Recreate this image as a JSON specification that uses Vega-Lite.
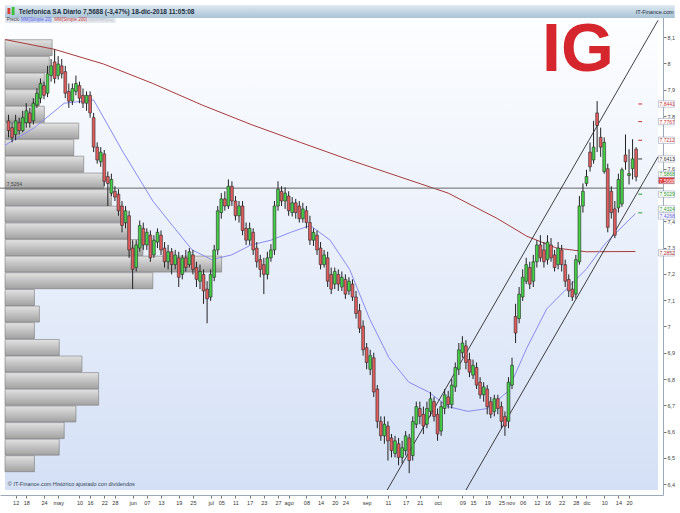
{
  "$schema": "https://vega.github.io/schema/vega-lite/v6.json",
  "width": 663,
  "height": 482,
  "autosize": {"type": "none"},
  "padding": {"left": 0, "top": 13, "right": 17, "bottom": 18},
  "background": "#ffffff",
  "config": {"view": {"stroke": null}, "font": "Liberation Sans", "axis": {"labelOverlap": false}},
  "data": {"values": [{"k": 1}]},
  "datasets": {
    "candles": [
      {"i":1,"o":7.782,"h":7.805,"l":7.719,"c":7.745},
      {"i":2,"o":7.756,"h":7.775,"l":7.700,"c":7.719},
      {"i":3,"o":7.730,"h":7.805,"l":7.708,"c":7.782},
      {"i":4,"o":7.775,"h":7.794,"l":7.730,"c":7.745},
      {"i":5,"o":7.745,"h":7.820,"l":7.738,"c":7.794},
      {"i":6,"o":7.775,"h":7.849,"l":7.756,"c":7.820},
      {"i":7,"o":7.812,"h":7.831,"l":7.756,"c":7.775},
      {"i":8,"o":7.782,"h":7.868,"l":7.768,"c":7.849},
      {"i":9,"o":7.842,"h":7.905,"l":7.831,"c":7.887},
      {"i":10,"o":7.868,"h":7.943,"l":7.849,"c":7.924},
      {"i":11,"o":7.916,"h":7.931,"l":7.864,"c":7.879},
      {"i":12,"o":7.887,"h":7.991,"l":7.872,"c":7.961},
      {"i":13,"o":7.954,"h":8.017,"l":7.931,"c":7.991},
      {"i":14,"o":8.006,"h":8.054,"l":7.924,"c":7.943},
      {"i":15,"o":7.954,"h":8.028,"l":7.939,"c":7.998},
      {"i":16,"o":7.991,"h":8.017,"l":7.943,"c":7.961},
      {"i":17,"o":7.969,"h":7.991,"l":7.868,"c":7.887},
      {"i":18,"o":7.894,"h":7.924,"l":7.831,"c":7.857},
      {"i":19,"o":7.857,"h":7.924,"l":7.842,"c":7.905},
      {"i":20,"o":7.894,"h":7.954,"l":7.879,"c":7.924},
      {"i":21,"o":7.916,"h":7.931,"l":7.849,"c":7.868},
      {"i":22,"o":7.879,"h":7.905,"l":7.831,"c":7.849},
      {"i":23,"o":7.849,"h":7.894,"l":7.820,"c":7.879},
      {"i":24,"o":7.879,"h":7.894,"l":7.794,"c":7.812},
      {"i":25,"o":7.794,"h":7.812,"l":7.663,"c":7.682},
      {"i":26,"o":7.682,"h":7.700,"l":7.619,"c":7.633},
      {"i":27,"o":7.626,"h":7.682,"l":7.607,"c":7.663},
      {"i":28,"o":7.656,"h":7.671,"l":7.533,"c":7.552},
      {"i":29,"o":7.570,"h":7.589,"l":7.458,"c":7.544},
      {"i":30,"o":7.507,"h":7.581,"l":7.496,"c":7.559},
      {"i":31,"o":7.514,"h":7.533,"l":7.477,"c":7.492},
      {"i":32,"o":7.503,"h":7.522,"l":7.421,"c":7.440},
      {"i":33,"o":7.458,"h":7.477,"l":7.358,"c":7.384},
      {"i":34,"o":7.395,"h":7.458,"l":7.373,"c":7.440},
      {"i":35,"o":7.421,"h":7.440,"l":7.261,"c":7.291},
      {"i":36,"o":7.298,"h":7.328,"l":7.142,"c":7.217},
      {"i":37,"o":7.224,"h":7.328,"l":7.209,"c":7.310},
      {"i":38,"o":7.298,"h":7.403,"l":7.284,"c":7.384},
      {"i":39,"o":7.373,"h":7.395,"l":7.291,"c":7.310},
      {"i":40,"o":7.310,"h":7.373,"l":7.291,"c":7.358},
      {"i":41,"o":7.347,"h":7.365,"l":7.246,"c":7.261},
      {"i":42,"o":7.272,"h":7.347,"l":7.261,"c":7.328},
      {"i":43,"o":7.321,"h":7.373,"l":7.298,"c":7.358},
      {"i":44,"o":7.347,"h":7.365,"l":7.272,"c":7.291},
      {"i":45,"o":7.298,"h":7.321,"l":7.224,"c":7.246},
      {"i":46,"o":7.246,"h":7.310,"l":7.217,"c":7.284},
      {"i":47,"o":7.284,"h":7.298,"l":7.198,"c":7.235},
      {"i":48,"o":7.235,"h":7.291,"l":7.217,"c":7.272},
      {"i":49,"o":7.261,"h":7.284,"l":7.150,"c":7.187},
      {"i":50,"o":7.198,"h":7.272,"l":7.179,"c":7.261},
      {"i":51,"o":7.261,"h":7.291,"l":7.209,"c":7.224},
      {"i":52,"o":7.235,"h":7.298,"l":7.224,"c":7.284},
      {"i":53,"o":7.272,"h":7.291,"l":7.198,"c":7.217},
      {"i":54,"o":7.224,"h":7.246,"l":7.150,"c":7.179},
      {"i":55,"o":7.172,"h":7.235,"l":7.142,"c":7.209},
      {"i":56,"o":7.198,"h":7.217,"l":7.086,"c":7.135},
      {"i":57,"o":7.142,"h":7.172,"l":7.012,"c":7.105},
      {"i":58,"o":7.112,"h":7.217,"l":7.097,"c":7.198},
      {"i":59,"o":7.187,"h":7.310,"l":7.172,"c":7.291},
      {"i":60,"o":7.291,"h":7.458,"l":7.272,"c":7.440},
      {"i":61,"o":7.433,"h":7.507,"l":7.410,"c":7.485},
      {"i":62,"o":7.485,"h":7.514,"l":7.440,"c":7.458},
      {"i":63,"o":7.458,"h":7.559,"l":7.447,"c":7.533},
      {"i":64,"o":7.533,"h":7.552,"l":7.458,"c":7.477},
      {"i":65,"o":7.477,"h":7.496,"l":7.403,"c":7.421},
      {"i":66,"o":7.421,"h":7.477,"l":7.395,"c":7.458},
      {"i":67,"o":7.458,"h":7.477,"l":7.347,"c":7.365},
      {"i":68,"o":7.373,"h":7.395,"l":7.310,"c":7.328},
      {"i":69,"o":7.328,"h":7.395,"l":7.310,"c":7.373},
      {"i":70,"o":7.358,"h":7.373,"l":7.272,"c":7.291},
      {"i":71,"o":7.298,"h":7.321,"l":7.224,"c":7.246},
      {"i":72,"o":7.254,"h":7.272,"l":7.187,"c":7.217},
      {"i":73,"o":7.235,"h":7.261,"l":7.123,"c":7.198},
      {"i":74,"o":7.198,"h":7.284,"l":7.179,"c":7.261},
      {"i":75,"o":7.261,"h":7.313,"l":7.246,"c":7.291},
      {"i":76,"o":7.291,"h":7.477,"l":7.272,"c":7.458},
      {"i":77,"o":7.458,"h":7.552,"l":7.440,"c":7.522},
      {"i":78,"o":7.514,"h":7.533,"l":7.458,"c":7.477},
      {"i":79,"o":7.477,"h":7.529,"l":7.447,"c":7.507},
      {"i":80,"o":7.496,"h":7.514,"l":7.421,"c":7.440},
      {"i":81,"o":7.433,"h":7.492,"l":7.418,"c":7.470},
      {"i":82,"o":7.470,"h":7.485,"l":7.410,"c":7.433},
      {"i":83,"o":7.458,"h":7.477,"l":7.395,"c":7.410},
      {"i":84,"o":7.410,"h":7.470,"l":7.395,"c":7.447},
      {"i":85,"o":7.440,"h":7.458,"l":7.373,"c":7.395},
      {"i":86,"o":7.395,"h":7.421,"l":7.310,"c":7.328},
      {"i":87,"o":7.328,"h":7.373,"l":7.306,"c":7.358},
      {"i":88,"o":7.347,"h":7.365,"l":7.272,"c":7.291},
      {"i":89,"o":7.298,"h":7.321,"l":7.217,"c":7.235},
      {"i":90,"o":7.235,"h":7.291,"l":7.224,"c":7.272},
      {"i":91,"o":7.261,"h":7.284,"l":7.150,"c":7.172},
      {"i":92,"o":7.198,"h":7.224,"l":7.123,"c":7.142},
      {"i":93,"o":7.161,"h":7.224,"l":7.142,"c":7.209},
      {"i":94,"o":7.198,"h":7.217,"l":7.135,"c":7.161},
      {"i":95,"o":7.150,"h":7.209,"l":7.135,"c":7.187},
      {"i":96,"o":7.179,"h":7.198,"l":7.105,"c":7.123},
      {"i":97,"o":7.135,"h":7.187,"l":7.120,"c":7.172},
      {"i":98,"o":7.161,"h":7.179,"l":7.097,"c":7.112},
      {"i":99,"o":7.112,"h":7.135,"l":7.030,"c":7.049},
      {"i":100,"o":7.060,"h":7.086,"l":6.975,"c":6.993},
      {"i":101,"o":7.001,"h":7.023,"l":6.889,"c":6.911},
      {"i":102,"o":6.919,"h":6.937,"l":6.837,"c":6.863},
      {"i":103,"o":6.837,"h":6.911,"l":6.815,"c":6.889},
      {"i":104,"o":6.881,"h":6.900,"l":6.732,"c":6.751},
      {"i":105,"o":6.762,"h":6.777,"l":6.613,"c":6.639},
      {"i":106,"o":6.639,"h":6.658,"l":6.565,"c":6.584},
      {"i":107,"o":6.584,"h":6.658,"l":6.554,"c":6.628},
      {"i":108,"o":6.621,"h":6.639,"l":6.490,"c":6.565},
      {"i":109,"o":6.576,"h":6.591,"l":6.502,"c":6.528},
      {"i":110,"o":6.517,"h":6.584,"l":6.502,"c":6.565},
      {"i":111,"o":6.554,"h":6.576,"l":6.472,"c":6.502},
      {"i":112,"o":6.502,"h":6.565,"l":6.479,"c":6.539},
      {"i":113,"o":6.528,"h":6.602,"l":6.509,"c":6.584},
      {"i":114,"o":6.576,"h":6.591,"l":6.442,"c":6.490},
      {"i":115,"o":6.509,"h":6.658,"l":6.490,"c":6.639},
      {"i":116,"o":6.628,"h":6.714,"l":6.613,"c":6.695},
      {"i":117,"o":6.688,"h":6.714,"l":6.628,"c":6.658},
      {"i":118,"o":6.666,"h":6.695,"l":6.591,"c":6.621},
      {"i":119,"o":6.628,"h":6.714,"l":6.613,"c":6.688},
      {"i":120,"o":6.677,"h":6.751,"l":6.658,"c":6.725},
      {"i":121,"o":6.714,"h":6.732,"l":6.639,"c":6.658},
      {"i":122,"o":6.666,"h":6.688,"l":6.565,"c":6.591},
      {"i":123,"o":6.602,"h":6.714,"l":6.584,"c":6.695},
      {"i":124,"o":6.688,"h":6.762,"l":6.666,"c":6.740},
      {"i":125,"o":6.732,"h":6.755,"l":6.688,"c":6.703},
      {"i":126,"o":6.703,"h":6.800,"l":6.688,"c":6.777},
      {"i":127,"o":6.770,"h":6.863,"l":6.751,"c":6.844},
      {"i":128,"o":6.837,"h":6.937,"l":6.815,"c":6.911},
      {"i":129,"o":6.900,"h":6.963,"l":6.881,"c":6.937},
      {"i":130,"o":6.926,"h":6.948,"l":6.837,"c":6.863},
      {"i":131,"o":6.874,"h":6.900,"l":6.807,"c":6.826},
      {"i":132,"o":6.815,"h":6.874,"l":6.800,"c":6.852},
      {"i":133,"o":6.844,"h":6.863,"l":6.762,"c":6.777},
      {"i":134,"o":6.788,"h":6.807,"l":6.725,"c":6.740},
      {"i":135,"o":6.740,"h":6.788,"l":6.714,"c":6.770},
      {"i":136,"o":6.762,"h":6.777,"l":6.666,"c":6.695},
      {"i":137,"o":6.714,"h":6.732,"l":6.651,"c":6.666},
      {"i":138,"o":6.677,"h":6.740,"l":6.658,"c":6.725},
      {"i":139,"o":6.725,"h":6.740,"l":6.666,"c":6.688},
      {"i":140,"o":6.695,"h":6.714,"l":6.613,"c":6.639},
      {"i":141,"o":6.658,"h":6.677,"l":6.584,"c":6.621},
      {"i":142,"o":6.639,"h":6.807,"l":6.613,"c":6.788},
      {"i":143,"o":6.777,"h":6.881,"l":6.762,"c":6.852},
      {"i":144,"o":7.038,"h":7.086,"l":6.937,"c":6.975},
      {"i":145,"o":7.030,"h":7.150,"l":7.012,"c":7.123},
      {"i":146,"o":7.112,"h":7.217,"l":7.097,"c":7.187},
      {"i":147,"o":7.172,"h":7.261,"l":7.161,"c":7.235},
      {"i":148,"o":7.224,"h":7.246,"l":7.142,"c":7.161},
      {"i":149,"o":7.172,"h":7.272,"l":7.150,"c":7.246},
      {"i":150,"o":7.246,"h":7.328,"l":7.224,"c":7.310},
      {"i":151,"o":7.310,"h":7.347,"l":7.246,"c":7.261},
      {"i":152,"o":7.291,"h":7.321,"l":7.224,"c":7.246},
      {"i":153,"o":7.254,"h":7.347,"l":7.235,"c":7.321},
      {"i":154,"o":7.310,"h":7.336,"l":7.246,"c":7.261},
      {"i":155,"o":7.272,"h":7.291,"l":7.209,"c":7.224},
      {"i":156,"o":7.235,"h":7.321,"l":7.217,"c":7.298},
      {"i":157,"o":7.291,"h":7.310,"l":7.209,"c":7.235},
      {"i":158,"o":7.235,"h":7.254,"l":7.150,"c":7.172},
      {"i":159,"o":7.179,"h":7.198,"l":7.112,"c":7.135},
      {"i":160,"o":7.142,"h":7.172,"l":7.097,"c":7.112},
      {"i":161,"o":7.123,"h":7.272,"l":7.105,"c":7.254},
      {"i":162,"o":7.246,"h":7.496,"l":7.235,"c":7.458},
      {"i":163,"o":7.458,"h":7.544,"l":7.433,"c":7.514},
      {"i":164,"o":7.544,"h":7.596,"l":7.533,"c":7.570},
      {"i":165,"o":7.663,"h":7.700,"l":7.589,"c":7.607},
      {"i":166,"o":7.633,"h":7.782,"l":7.619,"c":7.682},
      {"i":167,"o":7.812,"h":7.857,"l":7.663,"c":7.764},
      {"i":168,"o":7.719,"h":7.756,"l":7.645,"c":7.682},
      {"i":169,"o":7.589,"h":7.719,"l":7.581,"c":7.700},
      {"i":170,"o":7.600,"h":7.619,"l":7.358,"c":7.377},
      {"i":171,"o":7.514,"h":7.533,"l":7.410,"c":7.433},
      {"i":172,"o":7.447,"h":7.477,"l":7.336,"c":7.347},
      {"i":173,"o":7.451,"h":7.581,"l":7.433,"c":7.559},
      {"i":174,"o":7.466,"h":7.604,"l":7.455,"c":7.596},
      {"i":175,"o":7.652,"h":7.730,"l":7.596,"c":7.626},
      {"i":176,"o":7.574,"h":7.674,"l":7.540,"c":7.581},
      {"i":177,"o":7.600,"h":7.712,"l":7.559,"c":7.637},
      {"i":178,"o":7.674,"h":7.682,"l":7.552,"c":7.569}
    ],
    "profile": [
      {"p": 8.060, "vol": 13.3}, {"p": 7.996, "vol": 12.5}, {"p": 7.933, "vol": 11.1},
      {"p": 7.870, "vol": 9.7}, {"p": 7.807, "vol": 11.1}, {"p": 7.743, "vol": 20.8},
      {"p": 7.680, "vol": 19.4}, {"p": 7.617, "vol": 22.2}, {"p": 7.553, "vol": 27.8},
      {"p": 7.490, "vol": 30.0}, {"p": 7.427, "vol": 32.8}, {"p": 7.363, "vol": 34.7},
      {"p": 7.300, "vol": 38.9}, {"p": 7.237, "vol": 61.1}, {"p": 7.174, "vol": 41.7},
      {"p": 7.110, "vol": 8.3}, {"p": 7.047, "vol": 9.7}, {"p": 6.984, "vol": 8.3},
      {"p": 6.920, "vol": 15.3}, {"p": 6.857, "vol": 21.7}, {"p": 6.794, "vol": 26.4},
      {"p": 6.731, "vol": 26.4}, {"p": 6.667, "vol": 20.0}, {"p": 6.604, "vol": 16.7},
      {"p": 6.541, "vol": 15.3}, {"p": 6.478, "vol": 8.3}
    ],
    "sma200": [
      {"i": 0, "v": 8.091}, {"i": 13.9, "v": 8.054}, {"i": 27.8, "v": 7.998},
      {"i": 41.7, "v": 7.924}, {"i": 55.6, "v": 7.842}, {"i": 69.4, "v": 7.768},
      {"i": 83.3, "v": 7.700}, {"i": 97.2, "v": 7.633}, {"i": 111.1, "v": 7.570},
      {"i": 125, "v": 7.507}, {"i": 138.9, "v": 7.410}, {"i": 147.2, "v": 7.343},
      {"i": 155.6, "v": 7.298}, {"i": 163.9, "v": 7.284}, {"i": 177.8, "v": 7.285}
    ],
    "sma20": [
      {"i": 0, "v": 7.689}, {"i": 8.3, "v": 7.756}, {"i": 16.7, "v": 7.849},
      {"i": 25, "v": 7.861}, {"i": 33.3, "v": 7.663}, {"i": 41.7, "v": 7.477},
      {"i": 47.2, "v": 7.384}, {"i": 52.8, "v": 7.291}, {"i": 58.3, "v": 7.254},
      {"i": 63.9, "v": 7.272}, {"i": 69.4, "v": 7.310}, {"i": 75, "v": 7.328},
      {"i": 80.6, "v": 7.358}, {"i": 86.1, "v": 7.384}, {"i": 91.7, "v": 7.328},
      {"i": 97.2, "v": 7.217}, {"i": 102.8, "v": 7.030}, {"i": 108.3, "v": 6.881},
      {"i": 113.9, "v": 6.788}, {"i": 119.4, "v": 6.751}, {"i": 125, "v": 6.695},
      {"i": 130.6, "v": 6.677}, {"i": 136.1, "v": 6.688}, {"i": 141.7, "v": 6.751},
      {"i": 147.2, "v": 6.919}, {"i": 152.8, "v": 7.067}, {"i": 158.3, "v": 7.142},
      {"i": 163.9, "v": 7.217}, {"i": 169.4, "v": 7.317}, {"i": 177.8, "v": 7.429}
    ],
    "channel": [
      {"ch": "up", "i": 107.8, "v": 6.378}, {"ch": "up", "i": 184.17, "v": 8.164},
      {"ch": "down", "i": 130.0, "v": 6.378}, {"ch": "down", "i": 184.17, "v": 7.645}
    ],
    "marks": [
      {"v": 7.846, "kind": "r"}, {"v": 7.779, "kind": "r"},
      {"v": 7.708, "kind": "r"}, {"v": 7.637, "kind": "k"},
      {"v": 7.503, "kind": "g"}, {"v": 7.432, "kind": "g"}
    ],
    "tags": [
      {"v": 7.846, "t": "7,8441", "kind": "r"},
      {"v": 7.779, "t": "7,7767", "kind": "r"},
      {"v": 7.708, "t": "7,7212", "kind": "r"},
      {"v": 7.637, "t": "7,6413", "kind": "k"},
      {"v": 7.578, "t": "7,5868", "kind": "g"},
      {"v": 7.555, "t": "7,5688", "kind": "last"},
      {"v": 7.503, "t": "7,5029", "kind": "g"},
      {"v": 7.447, "t": "7,4324", "kind": "g"},
      {"v": 7.420, "t": "7,4268", "kind": "b"},
      {"v": 7.280, "t": "7,2852", "kind": "m"}
    ]
  },
  "layer": [
    {
      "mark": {"type": "rect", "fill": {"gradient": "linear", "x1": 0, "y1": 0, "x2": 0, "y2": 1,
        "stops": [{"offset": 0, "color": "#fdfeff"}, {"offset": 1, "color": "#d4e0f6"}]}},
      "encoding": {
        "x": {"datum": 0, "type": "quantitative", "scale": {"domain": [0, 184.17], "nice": false, "zero": false},
          "axis": {"orient": "bottom", "tickCount": 500, "values": [3,6,11,15,21,24,28,31,36,40,44,49,53,58,61,65,69,73,77,80,85,89,93,96,102,108,113,117,122,129,132,136,140,142.5,146,150,153,157,161,164,169,173,176],
            "labelExpr": "['12','18','24','may','10','16','22','28','jun','07','13','19','25','jul','05','11','17','23','27','ago','08','14','20','24','sep','11','17','21','oct','09','15','19','25','nov','06','12','16','22','28','dic','10','14','20'][indexof([3,6,11,15,21,24,28,31,36,40,44,49,53,58,61,65,69,73,77,80,85,89,93,96,102,108,113,117,122,129,132,136,140,142.5,146,150,153,157,161,164,169,173,176], datum.value)]",
            "title": null, "grid": false, "domain": true, "domainColor": "#9aaabb", "tickColor": "#777777", "tickSize": 3,
            "labelFontSize": 5.5, "labelColor": "#333333", "labelPadding": 2, "labelFlush": false, "labelOverlap": false}},
        "x2": {"datum": 184.17},
        "y": {"datum": 8.173, "type": "quantitative", "scale": {"domain": [6.378, 8.173], "nice": false, "zero": false},
          "axis": {"orient": "right", "tickCount": 500, "values": [6.4,6.5,6.6,6.7,6.8,6.9,7,7.1,7.2,7.3,7.4,7.6,7.8,7.9,8,8.1],
            "labelExpr": "replace(toString(datum.value), '.', ',')", "title": null, "grid": false, "labelOverlap": false,
            "domainColor": "#9aaabb", "tickColor": "#777777", "tickSize": 3, "labelFontSize": 5.5, "labelColor": "#444444", "labelPadding": 1}},
        "y2": {"datum": 6.378}
      }
    },
    {
      "data": {"name": "profile"},
      "mark": {"type": "bar", "orient": "horizontal", "height": 16, "stroke": "#7a7a7a", "strokeWidth": 0.6,
        "fill": {"gradient": "linear", "x1": 0, "y1": 0, "x2": 0, "y2": 1,
          "stops": [{"offset": 0, "color": "#e2e2e2"}, {"offset": 1, "color": "#a2a2a2"}]}},
      "encoding": {
        "x": {"field": "vol", "type": "quantitative", "stack": null},
        "y": {"field": "p", "type": "quantitative"}
      }
    },
    {
      "data": {"name": "sma200"},
      "mark": {"type": "line", "color": "#a83a3a", "strokeWidth": 1},
      "encoding": {
        "x": {"field": "i", "type": "quantitative"},
        "y": {"field": "v", "type": "quantitative"}
      }
    },
    {
      "data": {"name": "sma20"},
      "mark": {"type": "line", "color": "#8a8af0", "strokeWidth": 1},
      "encoding": {
        "x": {"field": "i", "type": "quantitative"},
        "y": {"field": "v", "type": "quantitative"}
      }
    },
    {
      "mark": {"type": "rule", "color": "#666666", "strokeWidth": 1},
      "encoding": {"y": {"datum": 7.526, "type": "quantitative"}}
    },
    {
      "mark": {"type": "text", "align": "left", "baseline": "bottom", "fontSize": 5, "color": "#444444"},
      "encoding": {"x": {"datum": 0.5, "type": "quantitative"}, "y": {"datum": 7.529, "type": "quantitative"}, "text": {"value": "7,5264"}}
    },
    {
      "data": {"name": "channel"},
      "mark": {"type": "line", "color": "#111111", "strokeWidth": 0.8},
      "encoding": {
        "x": {"field": "i", "type": "quantitative"},
        "y": {"field": "v", "type": "quantitative"},
        "detail": {"field": "ch", "type": "nominal"}
      }
    },
    {
      "data": {"name": "candles"},
      "mark": {"type": "rule", "color": "#222222", "strokeWidth": 1},
      "encoding": {
        "x": {"field": "i", "type": "quantitative"},
        "y": {"field": "l", "type": "quantitative"},
        "y2": {"field": "h"}
      }
    },
    {
      "data": {"name": "candles"},
      "mark": {"type": "bar", "width": 2.8, "stroke": "#2a2a2a", "strokeWidth": 0.6},
      "encoding": {
        "x": {"field": "i", "type": "quantitative"},
        "y": {"field": "o", "type": "quantitative"},
        "y2": {"field": "c"},
        "color": {"condition": {"test": "datum.c >= datum.o", "value": "#44d044"}, "value": "#e25c5c"}
      }
    },
    {
      "data": {"name": "marks"},
      "mark": {"type": "rule", "strokeWidth": 1},
      "encoding": {
        "x": {"datum": 178.6, "type": "quantitative"},
        "x2": {"datum": 179.7},
        "y": {"field": "v", "type": "quantitative"},
        "color": {"field": "kind", "type": "nominal", "legend": null,
          "scale": {"domain": ["r", "k", "g", "b", "m", "last"], "range": ["#c83232", "#333333", "#2a9a2a", "#5a5ae0", "#b03030", "#ffffff"]}}
      }
    },
    {
      "data": {"name": "tags"},
      "mark": {"type": "bar", "orient": "horizontal", "height": 6.4, "stroke": "#9aa4c0", "strokeWidth": 0.6},
      "encoding": {
        "x": {"datum": 184.3, "type": "quantitative"},
        "x2": {"datum": 188.8},
        "y": {"field": "v", "type": "quantitative", "stack": null},
        "color": {"condition": {"test": "datum.kind == 'last'", "value": "#e03c3c"}, "value": "#ffffff"}
      }
    },
    {
      "data": {"name": "tags"},
      "mark": {"type": "text", "align": "left", "baseline": "middle", "fontSize": 5, "dx": 1},
      "encoding": {
        "x": {"datum": 184.3, "type": "quantitative"},
        "y": {"field": "v", "type": "quantitative"},
        "text": {"field": "t", "type": "nominal"},
        "color": {"field": "kind", "type": "nominal", "legend": null}
      }
    },
    {
      "mark": {"type": "text", "align": "center", "baseline": "middle", "fontSize": 68, "fontWeight": "bold", "color": "#d4262c"},
      "encoding": {"x": {"datum": 161.6, "type": "quantitative"}, "y": {"datum": 8.046, "type": "quantitative"}, "text": {"value": "IG"}}
    },
    {
      "mark": {"type": "rect", "fill": {"gradient": "linear", "x1": 0, "y1": 0, "x2": 0, "y2": 1,
        "stops": [{"offset": 0, "color": "#dce8f0"}, {"offset": 1, "color": "#a9c3d5"}]}},
      "encoding": {"x": {"datum": 0, "type": "quantitative"}, "x2": {"datum": 188.9}, "y": {"datum": 8.2217, "type": "quantitative"}, "y2": {"datum": 8.173}}
    },
    {
      "mark": {"type": "rect", "color": "#d8403a"},
      "encoding": {"x": {"datum": 0.7, "type": "quantitative"}, "x2": {"datum": 1.5}, "y": {"datum": 8.211, "type": "quantitative"}, "y2": {"datum": 8.188}}
    },
    {
      "mark": {"type": "rect", "color": "#3cc03c"},
      "encoding": {"x": {"datum": 1.9, "type": "quantitative"}, "x2": {"datum": 2.7}, "y": {"datum": 8.215, "type": "quantitative"}, "y2": {"datum": 8.184}}
    },
    {
      "mark": {"type": "text", "align": "left", "baseline": "middle", "fontSize": 6.5, "fontWeight": "bold", "color": "#1c2c3c"},
      "encoding": {"x": {"datum": 3.9, "type": "quantitative"}, "y": {"datum": 8.1975, "type": "quantitative"}, "text": {"value": "Telefonica SA   Diario   7,5688 (-3,47%)   18-dic-2018 11:05:08"}}
    },
    {
      "mark": {"type": "text", "align": "right", "baseline": "middle", "fontSize": 5.5, "color": "#1c2c3c"},
      "encoding": {"x": {"datum": 188.6, "type": "quantitative"}, "y": {"datum": 8.1975, "type": "quantitative"}, "text": {"value": "IT-Finance.com"}}
    },
    {
      "mark": {"type": "rect", "color": "#e3e8ef"},
      "encoding": {"x": {"datum": 0, "type": "quantitative"}, "x2": {"datum": 31.2}, "y": {"datum": 8.173, "type": "quantitative"}, "y2": {"datum": 8.154}}
    },
    {
      "mark": {"type": "rect", "color": "#c9d6f2"},
      "encoding": {"x": {"datum": 4.2, "type": "quantitative"}, "x2": {"datum": 13.3}, "y": {"datum": 8.172, "type": "quantitative"}, "y2": {"datum": 8.155}}
    },
    {
      "mark": {"type": "text", "align": "left", "baseline": "middle", "fontSize": 4.5, "color": "#333333"},
      "encoding": {"x": {"datum": 0.5, "type": "quantitative"}, "y": {"datum": 8.1635, "type": "quantitative"}, "text": {"value": "Precio"}}
    },
    {
      "mark": {"type": "text", "align": "left", "baseline": "middle", "fontSize": 4.5, "color": "#5a5ae0"},
      "encoding": {"x": {"datum": 4.5, "type": "quantitative"}, "y": {"datum": 8.1635, "type": "quantitative"}, "text": {"value": "MM(Simple 20)"}}
    },
    {
      "mark": {"type": "text", "align": "left", "baseline": "middle", "fontSize": 4.5, "color": "#c83232"},
      "encoding": {"x": {"datum": 13.9, "type": "quantitative"}, "y": {"datum": 8.1635, "type": "quantitative"}, "text": {"value": "MM(Simple 200)"}}
    },
    {
      "mark": {"type": "text", "align": "left", "baseline": "middle", "fontSize": 4.5, "color": "#b8c0c8"},
      "encoding": {"x": {"datum": 23.4, "type": "quantitative"}, "y": {"datum": 8.1635, "type": "quantitative"}, "text": {"value": "Volumen(01)"}}
    },
    {
      "mark": {"type": "text", "align": "left", "baseline": "middle", "fontSize": 5.5, "color": "#334455"},
      "encoding": {"x": {"datum": 0.8, "type": "quantitative"}, "y": {"datum": 6.401, "type": "quantitative"}, "text": {"value": "© IT-Finance.com Histórico ajustado con dividendos"}}
    }
  ]
}
